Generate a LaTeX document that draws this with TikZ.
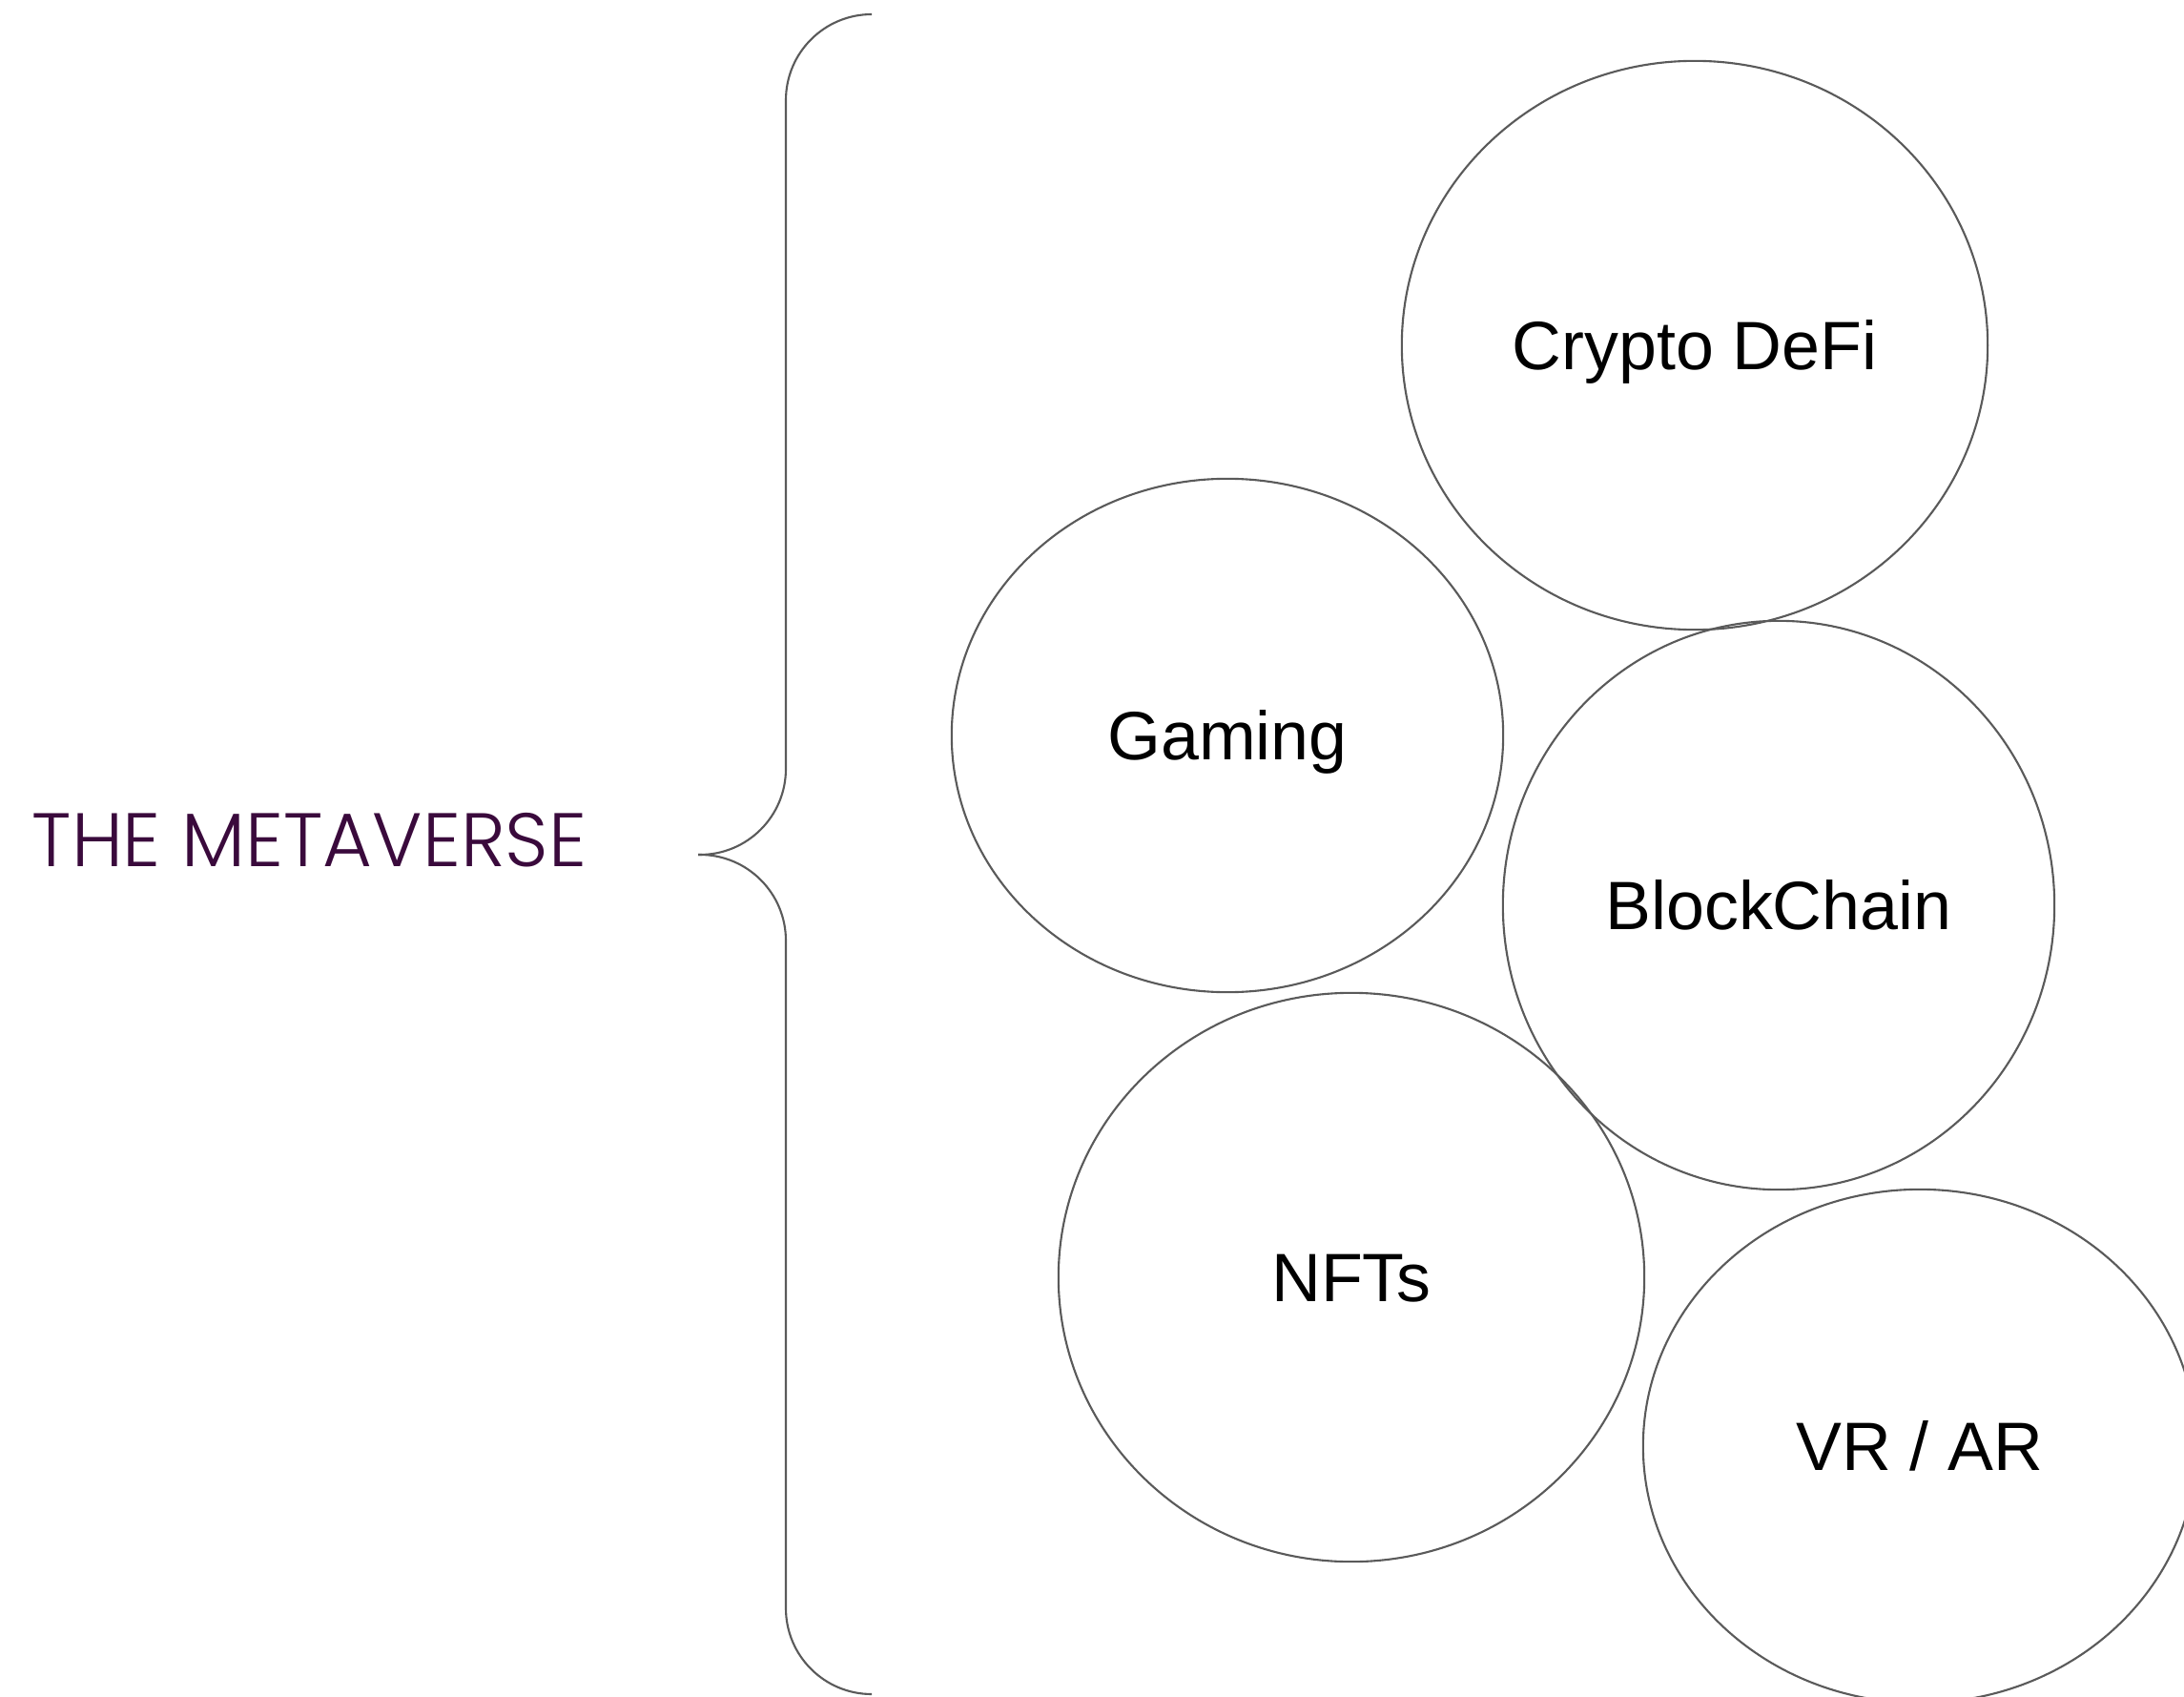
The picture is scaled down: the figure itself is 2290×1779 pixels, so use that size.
\documentclass[tikz,border=0pt]{standalone}
\usepackage{fontspec}
\setmainfont{Liberation Sans}
\newfontfamily\titlefont{Poppins Light}
\usetikzlibrary{shapes.geometric}
\definecolor{edge}{RGB}{90,90,90}
\definecolor{titlepurple}{RGB}{58,10,60}
\tikzset{
  bubble/.style={draw=edge, line width=0.6pt, ellipse, inner sep=0pt, outer sep=0pt,
    font=\fontsize{20.4pt}{24pt}\selectfont, text height=14.6pt, text depth=0pt},
  bracepath/.style={draw=edge, line width=0.6pt, rounded corners=0.9cm},
  titletext/.style={font=\titlefont\fontsize{22.6pt}{28pt}\selectfont, text=titlepurple, inner sep=0pt, anchor=base west}
}
\begin{document}
\begin{tikzpicture}[x=0.01cm,y=-0.01cm]
\useasboundingbox (0,0) rectangle (2290,1779);
\clip (0,0) rectangle (2290,1779);
% title
\node[titletext] (title) at (33,908) {THE METAVERSE};
% brace
\coordinate (btop) at (914,15);
\coordinate (btip) at (732,896);
\coordinate (bbot) at (914,1776);
\draw[bracepath] (btop) -- (824,15) -- (824,896) -- (btip);
\draw[bracepath] (btip) -- (824,896) -- (824,1776) -- (bbot);
% bubbles
\node[bubble, minimum width=6.14cm, minimum height=5.96cm] (crypto) at (1777,362) {Crypto DeFi};
\node[bubble, minimum width=5.78cm, minimum height=5.38cm] (gaming) at (1287,771) {Gaming};
\node[bubble, minimum width=5.78cm, minimum height=5.96cm] (block) at (1865,949) {BlockChain};
\node[bubble, minimum width=6.14cm, minimum height=5.96cm] (nfts) at (1417,1339) {NFTs};
\node[bubble, minimum width=5.80cm, minimum height=5.38cm] (vrar) at (2013,1516) {VR / AR};
\end{tikzpicture}
\end{document}
